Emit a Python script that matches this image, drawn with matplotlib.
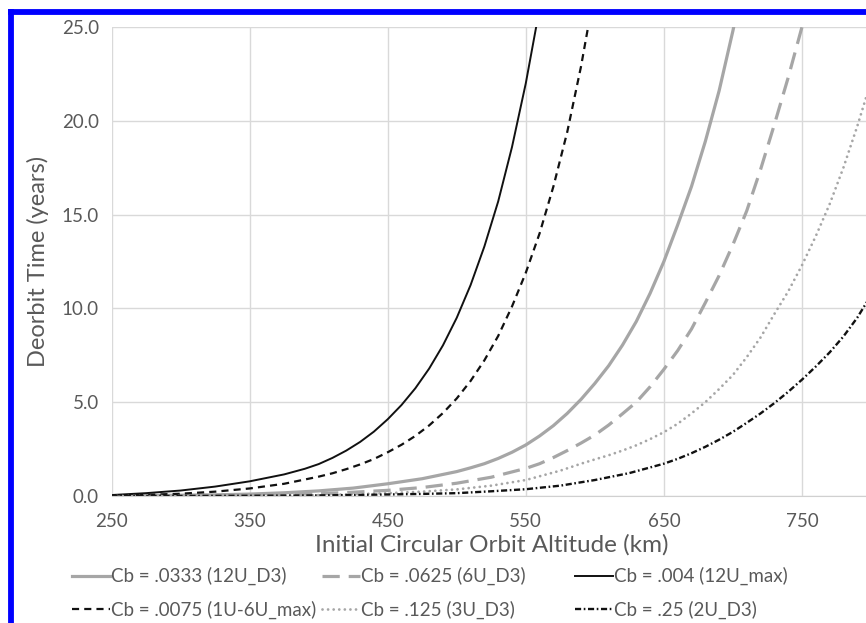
import matplotlib
matplotlib.use("Agg")
import matplotlib.pyplot as plt
from matplotlib.lines import Line2D

plt.rcParams['font.family'] = ['Lato', 'DejaVu Sans']

# deorbit time (years) against initial altitude (km)
alt_0333 = [250, 275, 300, 325, 350, 375, 400, 425, 450, 475, 500, 510, 520, 530, 540, 550,
            560, 570, 580, 590, 600, 610, 620, 630, 640, 650, 660, 670, 680, 690, 700, 710]
yrs_0333 = [0.01, 0.02, 0.04, 0.06, 0.1, 0.17, 0.27, 0.42, 0.65, 0.92, 1.3, 1.5, 1.72, 2.0, 2.33, 2.72,
            3.2, 3.75, 4.4, 5.15, 6.0, 6.94, 8.04, 9.3, 10.8, 12.5, 14.45, 16.5, 18.9, 21.6, 24.8, 28.4]

alt_0625 = [250, 275, 300, 325, 350, 375, 400, 425, 450, 475, 500, 525, 550, 560, 570, 580,
            590, 600, 610, 620, 630, 640, 650, 660, 670, 680, 690, 700, 710, 720, 730, 740,
            750, 760]
yrs_0625 = [0.0, 0.01, 0.02, 0.03, 0.05, 0.08, 0.12, 0.2, 0.3, 0.45, 0.68, 1.0, 1.47, 1.72, 2.05, 2.42,
            2.82, 3.25, 3.78, 4.38, 5.0, 5.82, 6.75, 7.75, 8.9, 10.3, 11.75, 13.4, 15.2, 17.4, 19.8, 22.3,
            25.0, 28.0]

alt_004 = [250, 275, 300, 325, 350, 375, 390, 400, 410, 420, 430, 440, 450, 460, 470, 480,
           490, 500, 510, 520, 530, 540, 550, 560]
yrs_004 = [0.05, 0.15, 0.29, 0.5, 0.78, 1.15, 1.45, 1.7, 2.03, 2.42, 2.88, 3.43, 4.09, 4.85, 5.74, 6.79,
           8.03, 9.5, 11.24, 13.3, 15.7, 18.6, 22.0, 26.0]

alt_0075 = [250, 275, 300, 325, 350, 375, 400, 410, 420, 430, 440, 450, 460, 470, 480, 490,
            500, 510, 520, 530, 540, 550, 560, 570, 580, 590, 600]
yrs_0075 = [0.02, 0.06, 0.12, 0.23, 0.4, 0.65, 1.03, 1.21, 1.43, 1.68, 1.97, 2.33, 2.73, 3.2, 3.76, 4.42,
            5.2, 6.13, 7.23, 8.53, 10.1, 11.9, 14.0, 16.5, 19.4, 22.9, 27.0]

alt_125 = [250, 300, 325, 350, 375, 400, 425, 450, 475, 500, 525, 550, 575, 590, 600, 610,
           620, 630, 640, 650, 660, 670, 680, 690, 700, 710, 720, 730, 740, 750, 760, 770,
           780, 790, 800]
yrs_125 = [0.0, 0.0, 0.01, 0.02, 0.03, 0.05, 0.09, 0.15, 0.23, 0.35, 0.55, 0.85, 1.35, 1.72, 1.95, 2.17,
           2.42, 2.7, 3.03, 3.4, 3.85, 4.4, 5.0, 5.7, 6.45, 7.4, 8.45, 9.7, 10.9, 12.3, 13.85, 15.55,
           17.5, 19.7, 22.1]

alt_25 = [250, 300, 350, 375, 400, 425, 450, 475, 500, 525, 550, 575, 600, 625, 650, 660,
          670, 680, 690, 700, 710, 720, 730, 740, 750, 760, 770, 780, 790, 800]
yrs_25 = [0.0, 0.0, 0.01, 0.02, 0.03, 0.05, 0.08, 0.11, 0.15, 0.25, 0.36, 0.55, 0.85, 1.22, 1.72, 1.98,
          2.28, 2.62, 3.0, 3.42, 3.9, 4.4, 4.95, 5.55, 6.2, 6.9, 7.65, 8.5, 9.5, 10.7]

labels = ["Cb = .0333 (12U_D3)", "Cb = .0625 (6U_D3)", "Cb = .004 (12U_max)",
          "Cb = .0075 (1U-6U_max)", "Cb = .125 (3U_D3)", "Cb = .25 (2U_D3)"]

xticks = [250, 350, 450, 550, 650, 750]
yticks = [0, 5, 10, 15, 20, 25]

gray = "#a6a6a6"
txt = "#595959"

fig = plt.figure(figsize=(8.66, 6.23), dpi=100)
ax = fig.add_axes([0.1288, 0.2039, 0.8770, 0.7528])

h = []
h += ax.plot(alt_0333, yrs_0333, color=gray, lw=2.3, label=labels[0])
h += ax.plot(alt_0625, yrs_0625, color=gray, lw=2.3, ls=(0, (5.4, 2.8)), label=labels[1])
h += ax.plot(alt_004, yrs_004, color="#111111", lw=1.4, label=labels[2])
h += ax.plot(alt_0075, yrs_0075, color="#111111", lw=1.6, ls=(0, (3.2, 2.3)), label=labels[3])
h += ax.plot(alt_125, yrs_125, color=gray, lw=2.0, ls=(0, (0.01, 2.0)),
             dash_capstyle="round", label=labels[4])
h += ax.plot(alt_25, yrs_25, color="#111111", lw=1.7, ls=(0, (2.6, 1.1, 0.7, 1.1)),
             label=labels[5])

ax.set_xlim(250, 800)
ax.set_ylim(0, 25)
ax.set_xticks(xticks)
ax.set_yticks(yticks)
ax.set_yticklabels(["%.1f" % v for v in yticks])
ax.grid(True, color="#d9d9d9", lw=1.0)
ax.set_axisbelow(True)
for s in ["left", "top", "right"]:
    ax.spines[s].set_visible(False)
ax.spines["bottom"].set_color("#d0d0d0")
ax.tick_params(length=0, labelsize=13.5, labelcolor=txt)
ax.tick_params(axis="y", pad=9)
ax.tick_params(axis="x", pad=12)

ax.set_xlabel("Initial Circular Orbit Altitude (km)", fontsize=17.5, color=txt, labelpad=3)
ax.set_ylabel("Deorbit Time (years)", fontsize=17, color=txt, labelpad=9)

# three equal-width legend columns, rows read left to right like the reference
col_x = [72 / 866, 322 / 866, 575 / 866]
for c in range(3):
    idx = [c, c + 3]
    leg = fig.legend([h[i] for i in idx], [labels[i] for i in idx],
                     loc="upper left", bbox_to_anchor=(col_x[c], 1 - 567 / 623),
                     frameon=False, fontsize=13.5, labelcolor=txt, handlelength=2.0,
                     handletextpad=0.1, labelspacing=0.8, borderpad=0, borderaxespad=0)

# blue frame round the picture (only left and top edges lie inside the crop)
fig.add_artist(Line2D([11 / 866, 11 / 866], [-0.1, 1 - 12 / 623], color="#0000ff", lw=4.2,
                      transform=fig.transFigure, solid_capstyle="projecting"))
fig.add_artist(Line2D([11 / 866, 1.1], [1 - 12 / 623, 1 - 12 / 623], color="#0000ff", lw=4.2,
                      transform=fig.transFigure, solid_capstyle="projecting"))

fig.savefig("out.png", dpi=100)
